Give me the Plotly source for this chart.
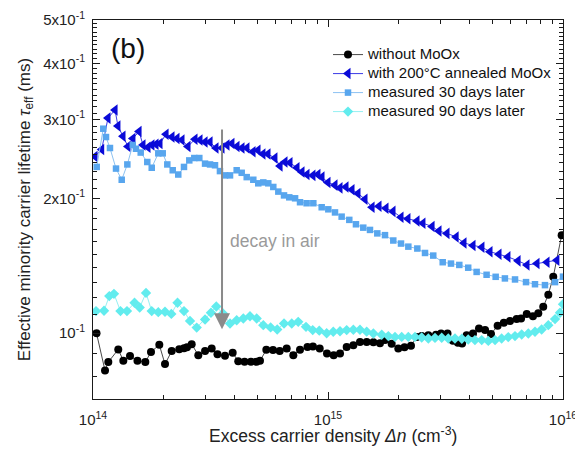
import math
import plotly.graph_objects as go

# ---------------- data ----------------
x_black = [1.035e14, 1.125e14, 1.162e14, 1.281e14, 1.346e14, 1.437e14, 1.546e14, 1.670e14, 1.765e14, 1.915e14,
           2.025e14, 2.162e14, 2.329e14, 2.439e14, 2.512e14, 2.630e14, 2.806e14, 2.998e14, 3.199e14, 3.386e14,
           3.645e14, 3.93e14, 4.15e14, 4.414e14, 4.70e14, 4.963e14, 5.136e14, 5.465e14, 5.834e14, 6.23e14,
           6.67e14, 7.12e14, 7.60e14, 8.18e14, 8.63e14, 9.22e14, 9.90e14, 1.057e15, 1.125e15, 1.201e15,
           1.282e15, 1.368e15, 1.461e15, 1.560e15, 1.664e15, 1.748e15, 1.866e15, 1.991e15, 2.116e15, 2.255e15,
           2.385e15, 2.504e15, 2.673e15, 2.882e15, 3.027e15, 3.225e15, 3.40e15, 3.57e15, 3.72e15, 3.89e15,
           4.14e15, 4.39e15, 4.66e15, 4.94e15, 5.27e15, 5.60e15, 5.95e15, 6.35e15, 6.63e15, 7.01e15,
           7.45e15, 7.85e15, 8.24e15, 8.66e15, 9.09e15, 9.87e15]
y_black = [0.100, 0.0825, 0.0862, 0.0920, 0.0868, 0.0889, 0.0868, 0.0862, 0.0908, 0.0942,
           0.0853, 0.0912, 0.0921, 0.0926, 0.0930, 0.0945, 0.0893, 0.0912, 0.0924, 0.0897,
           0.0891, 0.0904, 0.0866, 0.0863, 0.0863, 0.0863, 0.0868, 0.0918, 0.0917, 0.0912,
           0.0924, 0.0893, 0.0918, 0.0932, 0.0934, 0.0924, 0.0901, 0.0893, 0.0901, 0.0932,
           0.0940, 0.0956, 0.0956, 0.0955, 0.0950, 0.0965, 0.0947, 0.0924, 0.0930, 0.0937,
           0.0981, 0.0985, 0.0990, 0.0992, 0.0998, 0.0998, 0.0962, 0.0952, 0.0948, 0.0990,
           0.0998, 0.1024, 0.1016, 0.0996, 0.1039, 0.1055, 0.1065, 0.1076, 0.1078, 0.1104,
           0.1091, 0.1108, 0.1145, 0.1219, 0.1336, 0.1655]

x_blue = [1.02e14, 1.089e14, 1.158e14, 1.241e14, 1.277e14, 1.342e14, 1.409e14, 1.479e14, 1.570e14, 1.632e14,
          1.714e14, 1.782e14, 1.854e14, 1.928e14, 2.046e14, 2.168e14, 2.277e14, 2.392e14, 2.536e14, 2.716e14,
          2.853e14, 2.998e14, 3.148e14, 3.337e14, 3.540e14, 3.717e14, 3.902e14, 4.100e14, 4.305e14, 4.520e14,
          4.797e14, 5.036e14, 5.287e14, 5.554e14, 5.946e14, 6.251e14, 6.562e14, 6.891e14, 7.380e14, 7.750e14,
          8.14e14, 8.63e14, 9.06e14, 9.43e14, 1.0e15, 1.071e15, 1.125e15, 1.193e15, 1.265e15, 1.342e15,
          1.437e15, 1.540e15, 1.648e15, 1.765e15, 1.890e15, 2.045e15, 2.189e15, 2.392e15, 2.535e15, 2.773e15,
          2.967e15, 3.21e15, 3.51e15, 3.79e15, 4.14e15, 4.52e15, 4.89e15, 5.34e15, 5.83e15, 6.44e15,
          7.03e15, 7.75e15, 8.55e15, 9.42e15]
y_blue = [0.248, 0.257, 0.302, 0.315, 0.290, 0.275, 0.261, 0.272, 0.282, 0.263,
          0.260, 0.263, 0.264, 0.265, 0.278, 0.274, 0.272, 0.270, 0.261, 0.271,
          0.270, 0.267, 0.267, 0.259, 0.259, 0.263, 0.265, 0.261, 0.259, 0.259,
          0.254, 0.256, 0.251, 0.251, 0.246, 0.236, 0.241, 0.240, 0.234, 0.229,
          0.226, 0.225, 0.226, 0.223, 0.217, 0.214, 0.211, 0.212, 0.209, 0.205,
          0.199, 0.191, 0.192, 0.190, 0.187, 0.1815, 0.180, 0.178, 0.176, 0.173,
          0.169, 0.167, 0.164, 0.159, 0.157, 0.1556, 0.152, 0.150, 0.148, 0.145,
          0.142, 0.143, 0.144, 0.1455]

x_30d = [1.037e14, 1.106e14, 1.136e14, 1.181e14, 1.253e14, 1.325e14, 1.400e14, 1.476e14, 1.524e14, 1.596e14,
         1.702e14, 1.778e14, 1.896e14, 1.980e14, 2.071e14, 2.184e14, 2.306e14, 2.439e14, 2.569e14, 2.698e14,
         2.834e14, 2.998e14, 3.148e14, 3.305e14, 3.469e14, 3.645e14, 3.829e14, 4.087e14, 4.293e14, 4.509e14,
         4.810e14, 5.050e14, 5.305e14, 5.570e14, 5.851e14, 6.146e14, 6.499e14, 6.843e14, 7.244e14, 7.603e14,
         8.11e14, 8.66e14, 9.40e14, 1.003e15, 1.071e15, 1.143e15, 1.232e15, 1.315e15, 1.413e15, 1.509e15,
         1.621e15, 1.748e15, 1.896e15, 2.045e15, 2.197e15, 2.399e15, 2.587e15, 2.805e15, 3.077e15, 3.337e15,
         3.62e15, 3.95e15, 4.29e15, 4.73e15, 5.17e15, 5.66e15, 6.25e15, 6.96e15, 7.60e15, 8.38e15,
         9.25e15, 1.0e16]
y_30d = [0.235, 0.286, 0.274, 0.259, 0.233, 0.220, 0.238, 0.263, 0.258, 0.253,
         0.241, 0.234, 0.252, 0.252, 0.238, 0.231, 0.226, 0.235, 0.243, 0.246,
         0.246, 0.239, 0.238, 0.237, 0.230, 0.225, 0.225, 0.231, 0.228, 0.223,
         0.220, 0.216, 0.217, 0.216, 0.212, 0.207, 0.203, 0.201, 0.200, 0.196,
         0.195, 0.195, 0.191, 0.189, 0.186, 0.182, 0.179, 0.175, 0.172, 0.170,
         0.167, 0.1655, 0.161, 0.1585, 0.156, 0.1545, 0.151, 0.149, 0.144, 0.143,
         0.142, 0.140, 0.137, 0.135, 0.1336, 0.1325, 0.1318, 0.130, 0.1286, 0.128,
         0.130, 0.1337]

x_90d = [1.030e14, 1.114e14, 1.173e14, 1.228e14, 1.309e14, 1.395e14, 1.502e14, 1.580e14, 1.681e14, 1.778e14,
         1.896e14, 2.025e14, 2.154e14, 2.289e14, 2.439e14, 2.587e14, 2.762e14, 2.998e14, 3.177e14, 3.347e14,
         3.574e14, 3.829e14, 4.087e14, 4.362e14, 4.656e14, 4.97e14, 5.305e14, 5.70e14, 6.08e14, 6.50e14,
         7.01e14, 7.47e14, 8.06e14, 8.61e14, 9.18e14, 9.87e14, 1.053e15, 1.125e15, 1.201e15, 1.282e15,
         1.368e15, 1.461e15, 1.560e15, 1.693e15, 1.806e15, 1.928e15, 2.059e15, 2.197e15, 2.345e15, 2.504e15,
         2.673e15, 2.853e15, 3.047e15, 3.25e15, 3.47e15, 3.71e15, 3.95e15, 4.22e15, 4.51e15, 4.81e15,
         5.14e15, 5.48e15, 5.85e15, 6.25e15, 6.67e15, 7.12e15, 7.60e15, 8.11e15, 8.66e15, 9.25e15,
         9.71e15, 1.0e16]
y_90d = [0.112, 0.1122, 0.121, 0.1224, 0.112, 0.112, 0.1169, 0.1141, 0.123, 0.112,
         0.1114, 0.1116, 0.1104, 0.1169, 0.112, 0.1065, 0.1029, 0.1073, 0.1111, 0.1147,
         0.1106, 0.1051, 0.1069, 0.1078, 0.1091, 0.1078, 0.1042, 0.1030, 0.1019, 0.1051,
         0.1051, 0.1060, 0.1033, 0.1016, 0.1013, 0.1000, 0.1007, 0.1010, 0.1016, 0.1018,
         0.1018, 0.1008, 0.0998, 0.0992, 0.0985, 0.0981, 0.0981, 0.0981, 0.0981, 0.0978,
         0.0973, 0.0976, 0.0977, 0.0973, 0.0973, 0.0972, 0.0968, 0.0965, 0.0965, 0.0961,
         0.0965, 0.0973, 0.0980, 0.0985, 0.0993, 0.0998, 0.1007, 0.1019, 0.1042, 0.1075,
         0.1111, 0.1161]

series_names = ["without MoOx", "with 200°C annealed MoOx", "measured 30 days later", "measured 90 days later"]

y_tick_vals = [0.1, 0.2, 0.3, 0.4, 0.5]
y_tick_text = ["10<sup>-1</sup>", "2x10<sup>-1</sup>", "3x10<sup>-1</sup>", "4x10<sup>-1</sup>", "5x10<sup>-1</sup>"]
x_tick_vals = [1e14, 1e15, 1e16]
x_tick_text = ["10<sup>14</sup>", "10<sup>15</sup>", "10<sup>16</sup>"]

x_title = "Excess carrier density <i>Δn</i> (cm<sup>-3</sup>)"
y_title = "Effective minority carrier lifetime <i>τ</i><sub>eff</sub> (ms)"

x_range = [1e14, 1e16]
y_range = [0.0713, 0.5]

arrow_x = 3.54e14
arrow_y_top = 0.287
arrow_y_head = 0.102
label_x = 5.95e14
label_y = 0.161

# ---------------- figure ----------------
FONT = "Liberation Sans, Arial, sans-serif"
AX = "#1a1a1a"
fig = go.Figure()

styles = [
    ("#000000", "#4a4a4a", "circle", 8),
    ("#0a0ad8", "#3b3be6", "triangle-left", 10),
    ("#58a6ee", "#8cc2f2", "square", 6.5),
    ("#62ecee", "#95f0f2", "diamond", 8),
]
series = [(x_black, y_black), (x_blue, y_blue), (x_30d, y_30d), (x_90d, y_90d)]
for (xs, ys), (mc, lc, sym, sz), name in zip(series, styles, series_names):
    fig.add_trace(go.Scatter(
        x=xs, y=ys, mode="lines+markers",
        name='<span style="font-size:15px">' + name + '</span>',
        line=dict(color=lc, width=1),
        marker=dict(symbol=sym, size=sz, color=mc, line=dict(width=0)),
    ))

y_minor = [round(v * 0.01, 3) for v in range(8, 50) if v % 10 != 0]

fig.update_xaxes(
    type="log", range=[math.log10(x_range[0]), math.log10(x_range[1])],
    tickvals=x_tick_vals, ticktext=x_tick_text, automargin=False,
    ticks="inside", ticklen=7, tickwidth=1, tickcolor=AX,
    minor=dict(ticks="inside", ticklen=4, dtick="D1", tickcolor=AX, tickwidth=1),
    showline=True, linecolor=AX, linewidth=1, mirror="allticks",
    showgrid=False, zeroline=False, ticklabelstandoff=7, ticklabeloverflow="allow",
    tickfont=dict(family=FONT, size=15, color="#222"),
)
fig.update_yaxes(
    type="log", range=[math.log10(y_range[0]), math.log10(y_range[1])],
    tickvals=y_tick_vals, ticktext=y_tick_text, automargin=False,
    ticks="inside", ticklen=7, tickwidth=1, tickcolor=AX,
    minor=dict(ticks="inside", ticklen=4, tickvals=y_minor, tickcolor=AX, tickwidth=1),
    showline=True, linecolor=AX, linewidth=1, mirror="allticks",
    showgrid=False, zeroline=False, ticklabelstandoff=4, ticklabeloverflow="allow",
    tickfont=dict(family=FONT, size=15, color="#222"),
    title=dict(text=y_title, font=dict(family=FONT, size=17, color="#222"), standoff=8),
)

# x-axis title (placed as annotation for exact vertical placement)
fig.add_annotation(x=0.51, y=-0.095, xref="paper", yref="paper", text=x_title, showarrow=False,
                   xanchor="center", yanchor="middle",
                   font=dict(family=FONT, size=17.5, color="#222"))
fig.add_annotation(x=0.074, y=0.926, xref="paper", yref="paper", text="(b)", showarrow=False,
                   xanchor="center", yanchor="middle",
                   font=dict(family=FONT, size=28, color="#111"))
fig.add_annotation(x=math.log10(arrow_x), y=math.log10(arrow_y_head),
                   ax=math.log10(arrow_x), ay=math.log10(arrow_y_top),
                   xref="x", yref="y", axref="x", ayref="y", text="",
                   showarrow=True, arrowhead=2, arrowsize=1.6, arrowwidth=2, arrowcolor="#8a8a8a")
fig.add_annotation(x=math.log10(label_x), y=math.log10(label_y), xref="x", yref="y",
                   text="decay in air", showarrow=False,
                   font=dict(family=FONT, size=17.5, color="#9a9a9a"))

fig.update_layout(
    width=575, height=454,
    margin=dict(l=85, r=20, t=12, b=63),
    paper_bgcolor="white", plot_bgcolor="white",
    showlegend=True,
    legend=dict(x=0.50, y=0.947, xanchor="left", yanchor="top",
                bgcolor="rgba(0,0,0,0)", font=dict(family=FONT, size=12, color="#111"),
                tracegroupgap=0),
)

fig.write_html("out.html")
